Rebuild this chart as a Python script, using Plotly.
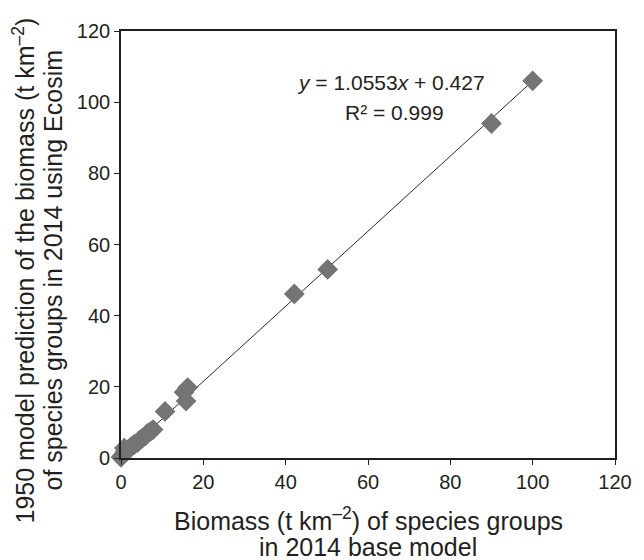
import plotly.graph_objects as go

# Biomass of species groups: 2014 base model (x) vs 1950 model prediction for 2014 (y)
base_2014 = [100.0, 90.0, 50.2, 42.1, 16.2, 15.3, 15.8, 10.7,
             7.8, 7.2, 6.5, 6.0, 5.2, 4.5, 4.0, 3.2, 2.5, 2.0, 1.5, 1.0, 0.8, 0.4, 0.0]
pred_1950 = [106.0, 94.0, 53.0, 46.1, 19.8, 18.5, 16.0, 13.1,
             8.0, 7.5, 7.0, 6.3, 5.6, 5.0, 4.3, 3.8, 3.2, 2.6, 2.2, 1.8, 2.8, 0.8, 0.2]

# Linear fit reported on the chart
slope = 1.0553
intercept = 0.427
r_squared = 0.999
fit_x = [0.0, 100.0]
fit_y = [slope * v + intercept for v in fit_x]

axis_ticks = [0, 20, 40, 60, 80, 100, 120]

FONT = "Liberation Sans, Arial, Helvetica, sans-serif"
INK = "#231f20"

fig = go.Figure()

fig.add_trace(go.Scatter(
    x=fit_x, y=fit_y, mode="lines",
    line=dict(color="#2a2a2a", width=1),
    hoverinfo="skip", showlegend=False,
))

fig.add_trace(go.Scatter(
    x=base_2014, y=pred_1950, mode="markers",
    marker=dict(symbol="diamond", size=16, color="#747474",
                line=dict(width=0)),
    showlegend=False, cliponaxis=False,
))

axis_common = dict(
    range=[0, 120], tickvals=axis_ticks, ticks="outside", ticklen=5,
    tickwidth=1.2, tickcolor=INK, showline=True, linecolor=INK,
    linewidth=1.6, mirror=True, showgrid=False, zeroline=False,
    tickfont=dict(family=FONT, size=20, color=INK),
)
fig.update_xaxes(**axis_common)
fig.update_yaxes(**axis_common)

eq_text = f"<i>y</i> = {slope:.4f}<i>x</i> + {intercept:.3f}"
r2_text = f"R² = {r_squared:.3f}"

annotations = [
    dict(x=65.6, y=105.4, xref="x", yref="y", text=eq_text, showarrow=False,
         xanchor="center", yanchor="middle",
         font=dict(family=FONT, size=21, color=INK)),
    dict(x=66.4, y=97.0, xref="x", yref="y", text=r2_text, showarrow=False,
         xanchor="center", yanchor="middle",
         font=dict(family=FONT, size=21, color=INK)),
    # x-axis title (two lines)
    dict(x=0.5, y=0, xref="paper", yref="paper", yshift=-61,
         text="Biomass (t km<sup>–2</sup>) of species groups", showarrow=False,
         xanchor="center", yanchor="middle",
         font=dict(family=FONT, size=25, color=INK)),
    dict(x=0.5, y=0, xref="paper", yref="paper", yshift=-89,
         text="in 2014 base model", showarrow=False,
         xanchor="center", yanchor="middle",
         font=dict(family=FONT, size=25, color=INK)),
    # y-axis title (two lines)
    dict(x=0, y=0.5, xref="paper", yref="paper", xshift=-98, yshift=-26,
         text="1950 model prediction of the biomass (t km<sup>–2</sup>)",
         showarrow=False, textangle=-90, xanchor="center", yanchor="middle",
         font=dict(family=FONT, size=25, color=INK)),
    dict(x=0, y=0.5, xref="paper", yref="paper", xshift=-69, yshift=-26,
         text="of species groups in 2014 using Ecosim",
         showarrow=False, textangle=-90, xanchor="center", yanchor="middle",
         font=dict(family=FONT, size=25, color=INK)),
]

fig.update_layout(
    width=644, height=560,
    margin=dict(l=121, r=18, t=31, b=102),
    paper_bgcolor="white", plot_bgcolor="white",
    annotations=annotations,
    font=dict(family=FONT, color=INK),
)

fig.write_html("out.html")
